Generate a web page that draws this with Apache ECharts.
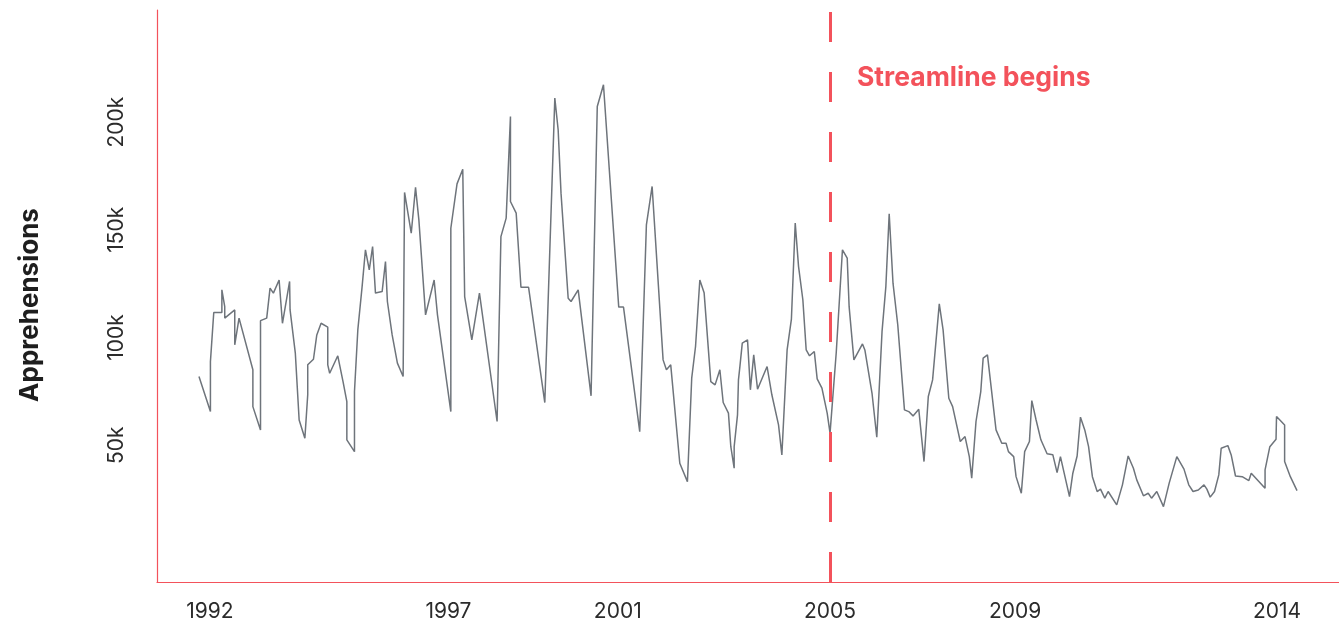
<!DOCTYPE html>
<html><head><meta charset="utf-8">
<script src="https://cdn.jsdelivr.net/npm/echarts@6/dist/echarts.min.js"></script>
<style>html,body{margin:0;padding:0;background:#fff}#c{width:1339px;height:626px}</style>
</head><body><div id="c"></div>
<script>
// decimal year of each reading
const years = [
1991.77,1992.01,1992.01,1992.08,1992.25,1992.25,1992.31,1992.31,1992.52,1992.52,1992.61,1992.90,1992.90,1993.06,1993.06,1993.19,1993.26,1993.33,1993.45,1993.52,
1993.67,1993.68,1993.79,1993.87,1993.99,1994.05,1994.05,1994.17,1994.24,1994.33,1994.47,1994.47,1994.51,1994.68,1994.79,1994.87,1994.87,1995.03,1995.03,1995.10,
1995.19,1995.26,1995.34,1995.41,1995.47,1995.61,1995.68,1995.72,1995.82,1995.93,1996.05,1996.08,1996.22,1996.31,1996.38,1996.52,1996.70,1996.77,1997.05,1997.05,
1997.18,1997.30,1997.34,1997.49,1997.65,1998.02,1998.10,1998.21,1998.30,1998.30,1998.42,1998.52,1998.68,1999.02,1999.23,1999.30,1999.36,1999.51,1999.57,1999.72,
1999.99,2000.12,2000.25,2000.57,2000.67,2001.01,2001.15,2001.27,2001.50,2001.57,2001.66,2001.85,2002.01,2002.10,2002.18,2002.27,2002.36,2002.50,2002.59,2002.69,
2002.76,2002.87,2002.92,2002.99,2002.99,2003.06,2003.08,2003.11,2003.16,2003.27,2003.33,2003.40,2003.48,2003.68,2003.78,2003.92,2003.99,2004.10,2004.19,2004.27,
2004.34,2004.43,2004.50,2004.57,2004.67,2004.73,2004.83,2004.94,2005.00,2005.13,2005.26,2005.36,2005.40,2005.50,2005.68,2005.73,2005.88,2005.98,2006.09,2006.17,
2006.24,2006.32,2006.42,2006.56,2006.65,2006.74,2006.86,2006.97,2007.06,2007.15,2007.29,2007.37,2007.49,2007.57,2007.73,2007.83,2007.92,2007.97,2008.06,2008.16,
2008.21,2008.30,2008.48,2008.60,2008.69,2008.74,2008.85,2008.90,2009.01,2009.08,2009.18,2009.23,2009.32,2009.42,2009.55,2009.67,2009.76,2009.83,2010.02,2010.09,
2010.18,2010.25,2010.34,2010.42,2010.50,2010.60,2010.67,2010.76,2010.83,2011.01,2011.13,2011.25,2011.36,2011.43,2011.57,2011.67,2011.74,2011.85,2011.99,2012.11,
2012.27,2012.42,2012.52,2012.61,2012.72,2012.84,2012.90,2012.97,2013.06,2013.15,2013.20,2013.34,2013.41,2013.50,2013.64,2013.78,2013.83,2014.12,2014.12,2014.22,
2014.35,2014.36,2014.53,2014.53,2014.65,2014.79
];
// apprehensions, thousands
const apprehensionsK = [
81.9,65.6,88.8,111.6,111.6,122.1,114.3,109.0,112.8,96.6,109.0,85.0,67.9,57.1,107.8,109.0,122.9,120.6,126.7,106.6,
126.0,112.8,92.7,61.7,53.2,73.4,87.3,89.9,101.2,106.6,104.8,87.3,83.4,91.5,79.5,70.2,52.5,47.0,74.9,103.5,
123.6,140.7,131.4,142.2,120.6,121.3,135.2,116.7,101.2,88.1,81.9,167.3,148.4,169.7,154.6,110.5,126.7,110.5,65.6,150.7,
171.3,178.1,119.0,98.9,120.6,61.0,146.8,155.4,202.6,163.1,157.7,123.3,123.3,69.8,211.1,196.4,167.0,118.2,116.7,122.1,
72.9,207.2,217.3,114.1,114.1,56.3,152.3,170.1,89.6,85.0,87.3,41.6,33.1,81.1,95.8,126.7,120.8,79.5,78.0,85.0,
69.8,64.9,49.3,39.3,49.3,64.1,80.3,86.5,97.4,98.9,75.7,91.9,76.0,86.5,73.4,59.4,45.5,94.2,108.5,153.1,
132.9,117.5,94.2,91.5,93.5,80.8,76.5,64.9,55.6,93.0,140.7,136.8,114.3,89.6,97.0,94.2,74.1,53.7,102.7,123.6,
157.4,125.2,105.8,66.4,65.6,63.6,66.7,42.4,72.6,80.3,115.6,103.5,71.8,67.9,51.7,54.0,44.7,34.7,61.0,74.9,
90.4,91.9,57.1,50.9,50.9,47.0,44.7,35.4,27.7,47.0,51.7,70.7,61.7,52.5,46.0,45.6,37.3,44.7,26.1,37.0,
45.0,63.0,57.1,49.3,35.4,28.5,29.6,25.4,28.5,22.3,31.6,45.0,39.3,33.9,26.5,27.7,25.4,28.5,21.5,32.4,
44.7,38.9,31.6,28.5,29.2,31.6,29.6,25.9,28.5,36.2,48.6,49.8,45.5,35.7,35.4,33.6,37.0,30.0,38.5,49.3,
52.8,63.3,59.4,42.4,35.4,28.9
];
const xTickValues = [1992, 1997, 2000.55, 2005, 2008.88, 2014.37];
const xTickLabels = ['1992', '1997', '2001', '2005', '2009', '2014'];
const yTickValues = [50, 100, 150, 200];
const streamlineYear = 2005;
const streamlineText = 'Streamline begins';
const yTitle = 'Apprehensions';

const RED = '#f3525b';
const FONT = 'Inter, "Noto Sans", sans-serif';
const seriesData = years.map((y, i) => [y, apprehensionsK[i]]);

const chart = echarts.init(document.getElementById('c'), null, {renderer: 'canvas'});
chart.setOption({
  animation: false,
  backgroundColor: '#fff',
  grid: {left: 157, right: 0, top: 10, bottom: 44},
  xAxis: {
    type: 'value', min: 1990.89, max: 2015.67,
    splitLine: {show: false},
    axisLine: {show: true, onZero: false, lineStyle: {color: RED, width: 1.2, opacity: 1}},
    axisTick: {show: false},
    axisLabel: {
      customValues: xTickValues, margin: 19, fontSize: 21, color: '#2b2b2b', fontFamily: FONT,
      formatter: v => {
        let best = 0;
        xTickValues.forEach((t, i) => { if (Math.abs(t - v) < Math.abs(xTickValues[best] - v)) best = i; });
        return xTickLabels[best];
      }
    }
  },
  yAxis: {
    type: 'value', min: -13.5, max: 252,
    splitLine: {show: false},
    axisLine: {show: true, onZero: false, lineStyle: {color: RED, width: 1.2, opacity: 1}},
    axisTick: {show: false},
    axisLabel: {customValues: yTickValues, rotate: 90, margin: 30, fontSize: 21, color: '#2b2b2b', fontFamily: FONT,
      formatter: v => v + 'k'}
  },
  graphic: [{
    type: 'text', left: 857, top: 65,
    style: {text: streamlineText, fill: RED, font: 'bold 26.5px ' + FONT}
  }, {
    type: 'text', x: 30, y: 305, rotation: Math.PI / 2,
    style: {text: yTitle, fill: '#1e1e1e', font: 'bold 26px ' + FONT, align: 'center', verticalAlign: 'middle'}
  }],
  series: [{
    type: 'line', data: seriesData, showSymbol: false, symbol: 'none',
    lineStyle: {color: '#6e747b', width: 1.5},
    markLine: {
      silent: true, symbol: 'none',
      lineStyle: {color: RED, width: 3, type: [30, 30]},
      label: {show: false},
      data: [{xAxis: streamlineYear}]
    }
  }]
});
</script></body></html>
